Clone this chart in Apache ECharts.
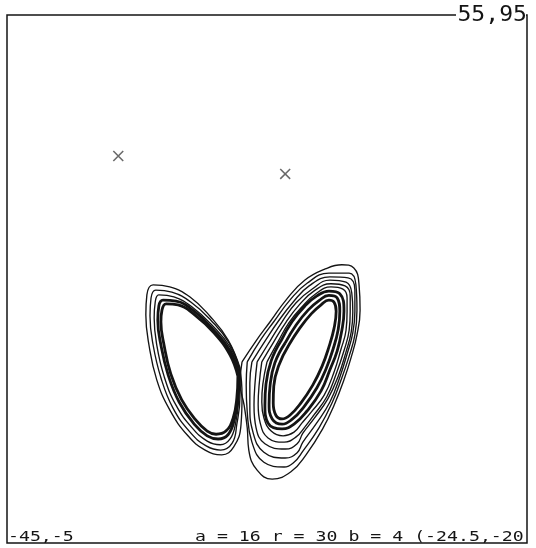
<!DOCTYPE html>
<html>
<head>
<meta charset="utf-8">
<script src="https://cdn.jsdelivr.net/npm/echarts@6/dist/echarts.min.js"></script>
<style>
  html, body { margin: 0; padding: 0; background: #fff; }
  #chart { width: 536px; height: 548px; }
</style>
</head>
<body>
<div id="chart"></div>
<script>
// Plot window (x from -45 to 55, y from -5 to 95)
const xRange = [-45, 55];
const yRange = [-5, 95];

// Corner and parameter captions
const cornerTopRight = '55,95';
const cornerBottomLeft = '-45,-5';
const paramText = 'a = 16 r = 30 b = 4 (-24.5,-20';

// Cross markers
const markers = [[-23.6, 68.3], [8.5, 64.9]];

// Left wing: inner dense band (L1, L2) and outer turns (L3..L5)
const lobeL1 = [[-0.6,26.6],[-0.8,22.5],[-1.5,18.7],[-2.9,16.2],[-4.8,15.6],[-6.5,16.2],[-8.7,18.3],[-11.4,22.1],[-13.5,27.0],[-14.8,32.5],[-15.4,36.9],[-15.2,39.1],[-14.4,40.3],[-12.1,40.1],[-8.9,38.2],[-5.2,34.8],[-2.1,30.6]];
const lobeL2 = [[-0.4,27.0],[-0.6,22.5],[-1.3,18.3],[-2.5,15.5],[-4.4,14.7],[-6.5,15.3],[-9.0,17.5],[-11.9,21.7],[-14.0,26.8],[-15.4,32.5],[-16.0,37.2],[-15.8,39.9],[-15.0,41.0],[-12.5,40.8],[-9.0,38.9],[-5.4,35.5],[-2.1,31.4]];
const lobeL3 = [[-0.2,27.4],[-0.4,22.7],[-1.0,17.9],[-2.1,14.7],[-4.0,13.6],[-6.5,14.3],[-9.4,16.8],[-12.5,21.1],[-14.8,26.6],[-16.2,32.5],[-16.7,37.6],[-16.5,40.6],[-15.8,42.0],[-12.9,41.6],[-9.4,39.7],[-5.6,36.3],[-2.1,32.1]];
const lobeL4 = [[-0.2,27.8],[-0.2,22.8],[-0.8,17.5],[-1.7,13.9],[-3.9,12.6],[-6.7,13.4],[-9.8,16.0],[-13.1,20.6],[-15.4,26.3],[-16.9,32.5],[-17.5,38.0],[-17.3,41.4],[-16.4,42.9],[-13.3,42.5],[-9.6,40.6],[-5.8,37.2],[-2.3,32.9]];
const lobeL5 = [[-0.2,28.2],[0.2,23.0],[0.0,17.4],[-1.4,13.2],[-3.7,11.7],[-6.9,12.6],[-10.2,15.3],[-13.7,20.2],[-16.2,25.9],[-17.7,32.5],[-18.3,38.2],[-18.1,42.0],[-16.9,43.9],[-13.7,43.5],[-9.8,41.6],[-6.0,38.0],[-2.5,33.5]];

// Right wing: inner dense band (B1..B3) and outer turns (R1..R6)
const lobeRb1 = [[9.2,32.5],[11.3,35.7],[13.5,38.4],[15.4,40.1],[16.9,41.0],[17.9,40.6],[18.3,38.9],[17.9,35.7],[16.9,32.1],[15.6,28.5],[13.8,24.9],[11.5,21.5],[9.4,19.2],[7.9,18.5],[6.7,19.2],[6.2,21.5],[6.3,24.7],[7.3,28.7]];
const lobeRb2 = [[8.5,32.9],[10.6,36.3],[12.9,39.1],[15.0,40.9],[16.9,41.9],[18.5,41.4],[19.0,38.9],[18.7,35.5],[17.7,31.7],[16.4,28.1],[14.6,24.4],[12.1,20.8],[9.8,18.4],[7.9,17.5],[6.0,18.5],[5.4,21.3],[5.6,24.9],[6.5,29.1]];
const lobeRb3 = [[7.7,33.3],[9.8,36.9],[12.3,39.9],[14.6,41.8],[16.9,42.7],[19.0,42.2],[19.8,38.9],[19.4,35.3],[18.5,31.4],[17.1,27.8],[15.4,23.8],[12.7,20.0],[10.2,17.5],[7.9,16.6],[5.2,17.7],[4.6,21.1],[4.8,25.1],[5.8,29.5]];
const lobeR1 = [[5.0,29.3],[7.1,33.1],[9.2,36.7],[11.7,39.7],[14.4,42.2],[17.3,43.5],[19.6,43.1],[20.4,41.4],[20.4,38.8],[20.2,35.3],[19.2,31.6],[17.9,27.4],[16.0,23.0],[13.5,19.8],[11.7,17.7],[10.2,16.0],[8.1,15.3],[5.8,16.2],[4.4,18.7],[4.0,21.7],[4.2,25.1]];
const lobeR2 = [[4.0,29.3],[6.3,33.1],[8.7,36.9],[11.2,40.1],[14.0,42.7],[17.3,44.1],[20.0,43.7],[21.0,41.8],[21.0,38.8],[20.8,35.3],[19.8,31.4],[18.3,27.0],[16.5,22.7],[14.0,19.2],[12.3,17.0],[10.6,15.1],[8.3,14.1],[5.2,14.9],[3.7,17.7],[3.3,21.3],[3.5,25.1]];
const lobeR3 = [[3.1,29.3],[5.6,33.3],[7.9,36.9],[10.6,40.5],[13.7,43.1],[17.1,44.8],[20.2,44.4],[21.3,42.4],[21.5,38.8],[21.2,35.0],[20.2,31.2],[18.7,26.6],[16.7,22.3],[14.0,18.5],[11.9,15.8],[10.8,13.8],[8.5,12.8],[4.6,13.8],[2.9,16.8],[2.5,21.1],[2.7,25.3]];
const lobeR4 = [[2.1,29.3],[4.8,33.5],[7.1,36.9],[10.0,40.6],[13.1,43.7],[17.1,45.4],[20.6,45.2],[21.9,42.9],[21.9,38.8],[21.5,34.8],[20.4,30.8],[19.0,26.4],[17.1,21.7],[14.4,17.5],[11.9,14.1],[10.8,12.1],[8.5,11.1],[4.4,12.2],[2.3,16.0],[1.7,21.0],[1.7,25.3]];
const lobeR5 = [[1.2,29.3],[3.8,33.5],[6.3,36.9],[9.4,41.0],[12.7,44.2],[16.9,46.1],[20.8,46.1],[22.1,43.9],[22.3,39.1],[21.9,34.4],[20.8,30.4],[19.4,26.3],[17.5,21.5],[15.0,16.8],[11.9,12.4],[10.2,10.3],[8.3,9.4],[4.4,10.3],[2.1,14.1],[1.2,19.8],[1.0,24.9]];
const lobeR6 = [[0.2,29.3],[2.9,33.3],[5.6,36.9],[8.8,41.2],[12.3,44.8],[16.2,46.9],[19.4,47.7],[21.7,47.1],[22.7,43.9],[22.9,39.1],[22.3,34.4],[21.2,30.2],[19.8,25.9],[17.9,21.1],[15.8,16.8],[12.5,11.7],[9.6,8.5],[6.0,7.1],[3.1,8.8],[1.5,12.6],[1.2,16.8],[0.6,21.1],[-0.2,25.3]];

const bandRings = [lobeL1, lobeL2, lobeRb1, lobeRb2, lobeRb3];
const outerRings = [lobeL3, lobeL4, lobeL5, lobeR1, lobeR2, lobeR3, lobeR4, lobeR5, lobeR6];

const INK = '#141414';
const MONO = '"DejaVu Sans Mono", "Liberation Mono", monospace';

// Each ring is drawn as a closed smooth line in data coordinates
function ringSeries(points, width) {
  return {
    type: 'line',
    data: points.concat([points[0]]),
    smooth: 0.45,
    symbol: 'none',
    silent: true,
    clip: false,
    lineStyle: { color: INK, width: width }
  };
}

const series = [];
bandRings.forEach(r => series.push(ringSeries(r, 2.8)));
outerRings.forEach(r => series.push(ringSeries(r, 1.35)));
series.push({
  type: 'scatter',
  data: markers,
  symbol: 'path://M0,1L1,0L10,9L9,10ZM9,0L10,1L1,10L0,9Z',
  symbolSize: 11,
  silent: true,
  itemStyle: { color: '#444' }
});

const chart = echarts.init(document.getElementById('chart'), null, { renderer: 'canvas' });
chart.setOption({
  animation: false,
  backgroundColor: '#fff',
  grid: {
    left: 7, top: 15, width: 520, height: 528,
    show: true, borderColor: INK, borderWidth: 1.5, backgroundColor: 'transparent'
  },
  xAxis: {
    type: 'value', min: xRange[0], max: xRange[1],
    axisLine: { show: false }, axisTick: { show: false },
    axisLabel: { show: false }, splitLine: { show: false }
  },
  yAxis: {
    type: 'value', min: yRange[0], max: yRange[1],
    axisLine: { show: false }, axisTick: { show: false },
    axisLabel: { show: false }, splitLine: { show: false }
  },
  series: series,
  graphic: [
    {
      type: 'rect', left: 456, top: 5, z: 100,
      shape: { width: 70, height: 20 },
      style: { fill: '#fff' }
    },
    {
      type: 'text', x: 527, y: 16, scaleX: 1.1, z: 101,
      style: {
        text: cornerTopRight, font: '21px ' + MONO, fill: INK,
        align: 'right', verticalAlign: 'middle'
      }
    },
    {
      type: 'text', x: 8, y: 537, scaleX: 1.3, z: 101,
      style: {
        text: cornerBottomLeft, font: '14px ' + MONO, fill: INK,
        align: 'left', verticalAlign: 'middle'
      }
    },
    {
      type: 'text', x: 195, y: 537, scaleX: 1.3, z: 101,
      style: {
        text: paramText, font: '14px ' + MONO, fill: INK,
        align: 'left', verticalAlign: 'middle'
      }
    }
  ]
});
</script>
</body>
</html>
